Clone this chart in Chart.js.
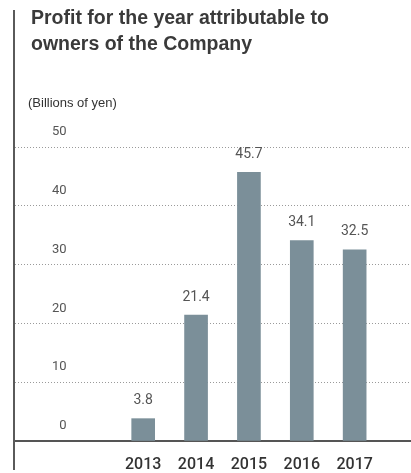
<!DOCTYPE html>
<html>
<head>
<meta charset="utf-8">
<script src="https://cdn.jsdelivr.net/npm/chart.js@4"></script>
<style>
  html, body { margin: 0; padding: 0; background: #fff; }
  body { width: 411px; height: 473px; position: relative; overflow: hidden; }
  #vline { position: absolute; left: 13px; top: 10px; width: 2px; height: 460px; background: #5a5a5a; }
  #title { position: absolute; left: 31px; top: 4px; font-family: "Liberation Sans", Arial, sans-serif; font-weight: bold; font-size: 19.5px; line-height: 26px; color: #3a3a3a; white-space: nowrap; }
  #unit { position: absolute; left: 28px; top: 95px; font-family: "Liberation Sans", Arial, sans-serif; font-size: 13px; line-height: 15px; color: #333; white-space: nowrap; }
  #c { position: absolute; left: 0; top: 0; }
</style>
</head>
<body>
<canvas id="c" width="411" height="473"></canvas>
<div id="vline"></div>
<div id="title">Profit for the year attributable to<br>owners of the Company</div>
<div id="unit">(Billions of yen)</div>
<script>
const years = [2013, 2014, 2015, 2016, 2017];
const profit = [3.8, 21.4, 45.7, 34.1, 32.5];
const yTicks = [0, 10, 20, 30, 40, 50];

const valueLabels = {
  id: 'valueLabels',
  afterDatasetsDraw(chart) {
    const ctx = chart.ctx;
    const meta = chart.getDatasetMeta(0);
    ctx.save();
    ctx.font = '14px Roboto, sans-serif';
    ctx.fillStyle = '#555';
    ctx.textAlign = 'center';
    ctx.textBaseline = 'middle';
    meta.data.forEach((bar, i) => {
      ctx.fillText(profit[i].toFixed(1), bar.x, bar.y - 18);
    });
    ctx.restore();
  }
};

new Chart(document.getElementById('c'), {
  type: 'bar',
  data: {
    datasets: [{
      data: years.map((y, i) => ({ x: y, y: profit[i] })),
      backgroundColor: '#7b8f99',
      barThickness: 23,
      borderWidth: 0
    }]
  },
  options: {
    responsive: false,
    devicePixelRatio: 1,
    animation: false,
    layout: { padding: { left: 15, right: 0, top: 147, bottom: 0 } },
    plugins: { legend: { display: false }, tooltip: { enabled: false }, title: { display: false } },
    scales: {
      x: {
        type: 'linear',
        offset: false,
        min: 2010.575,
        max: 2018.066,
        afterBuildTicks: (scale) => { scale.ticks = years.map(v => ({ value: v })); },
        afterFit: (scale) => { scale.height = 32; scale.paddingLeft = 0; scale.paddingRight = 0; },
        grid: { display: false, drawTicks: false },
        border: { display: true, color: '#555', width: 2 },
        ticks: {
          autoSkip: false,
          maxRotation: 0,
          padding: 14,
          color: '#333',
          font: { family: 'Roboto, sans-serif', size: 16, weight: '500' },
          callback: (v) => String(v)
        }
      },
      y: {
        min: 0,
        max: 50,
        afterBuildTicks: (scale) => { scale.ticks = yTicks.map(v => ({ value: v })); },
        afterFit: (scale) => { scale.width = 0; scale.paddingTop = 0; scale.paddingBottom = 0; },
        grid: { color: '#9a9a9a', lineWidth: 1, drawTicks: false },
        border: { display: false, dash: [1, 2] },
        ticks: {
          mirror: true,
          crossAlign: 'far',
          padding: 37,
          labelOffset: -15,
          color: '#555',
          font: { family: 'Roboto, sans-serif', size: 13 },
          callback: (v) => String(v)
        }
      }
    }
  },
  plugins: [valueLabels]
});
</script>
</body>
</html>
